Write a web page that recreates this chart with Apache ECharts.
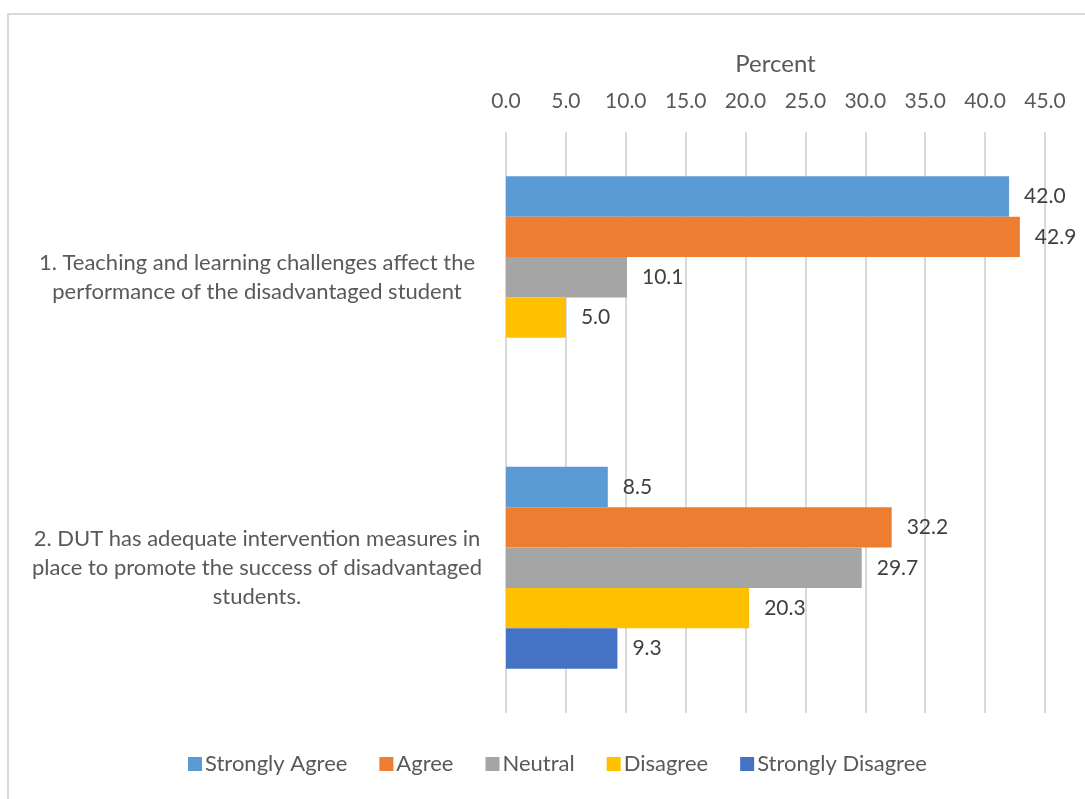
<!DOCTYPE html>
<html>
<head>
<meta charset="utf-8">
<script src="https://cdn.jsdelivr.net/npm/echarts@6/dist/echarts.min.js"></script>
<style>
  html, body { margin: 0; padding: 0; background: #fff; }
  #chart { width: 1085px; height: 799px; }
</style>
</head>
<body>
<div id="chart"></div>
<script>
// Survey statements (category axis, top to bottom)
const categories = [
  '1. Teaching and learning challenges affect the\nperformance of the disadvantaged student',
  '2. DUT has adequate intervention measures in\nplace to promote the success of disadvantaged\nstudents.'
];

// Response shares in percent, one array per answer option
const stronglyAgree    = [42.0, 8.5];
const agree            = [42.9, 32.2];
const neutral          = [10.1, 29.7];
const disagree         = [5.0, 20.3];
const stronglyDisagree = [null, 9.3];

const seriesNames = ['Strongly Agree', 'Agree', 'Neutral', 'Disagree', 'Strongly Disagree'];
const seriesData = [stronglyAgree, agree, neutral, disagree, stronglyDisagree];
const seriesColors = ['#5B9BD5', '#ED7D31', '#A5A5A5', '#FFC000', '#4472C4'];

const FONT = 'Lato';
const TEXT = '#595959';

const chart = echarts.init(document.getElementById('chart'), null, { renderer: 'canvas' });

chart.setOption({
  backgroundColor: '#ffffff',
  animation: false,
  textStyle: { fontFamily: FONT },
  graphic: [{
    type: 'rect',
    silent: true,
    shape: { x: 8, y: 14, width: 1200, height: 900 },
    style: { fill: 'none', stroke: '#d9d9d9', lineWidth: 2 }
  }],
  grid: { left: 506, right: 40, top: 132, bottom: 86, containLabel: false },
  legend: {
    bottom: 19,
    left: 183,
    itemWidth: 14,
    itemHeight: 14,
    itemGap: 32,
    icon: 'rect',
    textStyle: { fontFamily: FONT, fontSize: 22, color: TEXT, padding: [0, 0, 0, -2] },
    data: seriesNames
  },
  xAxis: {
    type: 'value',
    position: 'top',
    min: 0,
    max: 45,
    interval: 5,
    name: 'Percent',
    nameLocation: 'middle',
    nameGap: 56,
    nameTextStyle: { fontFamily: FONT, fontSize: 24, color: TEXT },
    axisLine: { show: false },
    axisTick: { show: false },
    axisLabel: {
      fontFamily: FONT, fontSize: 21, color: TEXT, margin: 20,
      formatter: v => v.toFixed(1)
    },
    splitLine: { show: true, lineStyle: { color: '#d9d9d9', width: 2 } }
  },
  yAxis: {
    type: 'category',
    inverse: true,
    data: categories,
    axisLine: { show: false },
    axisTick: { show: false },
    axisLabel: {
      margin: 24,
      formatter: v => '{c|' + v.split('\n').join('}\n{c|') + '}',
      rich: {
        c: { fontFamily: FONT, fontSize: 22, color: TEXT, width: 450, align: 'center', lineHeight: 29 }
      }
    }
  },
  series: seriesData.map((d, i) => ({
    name: seriesNames[i],
    type: 'bar',
    data: d,
    barGap: '0%',
    barCategoryGap: '30.5%',
    itemStyle: { color: seriesColors[i] },
    label: {
      show: true,
      position: 'right',
      distance: 15,
      fontFamily: FONT,
      fontSize: 21,
      color: '#404040',
      formatter: p => (p.value == null ? '' : Number(p.value).toFixed(1))
    }
  }))
});
</script>
</body>
</html>
